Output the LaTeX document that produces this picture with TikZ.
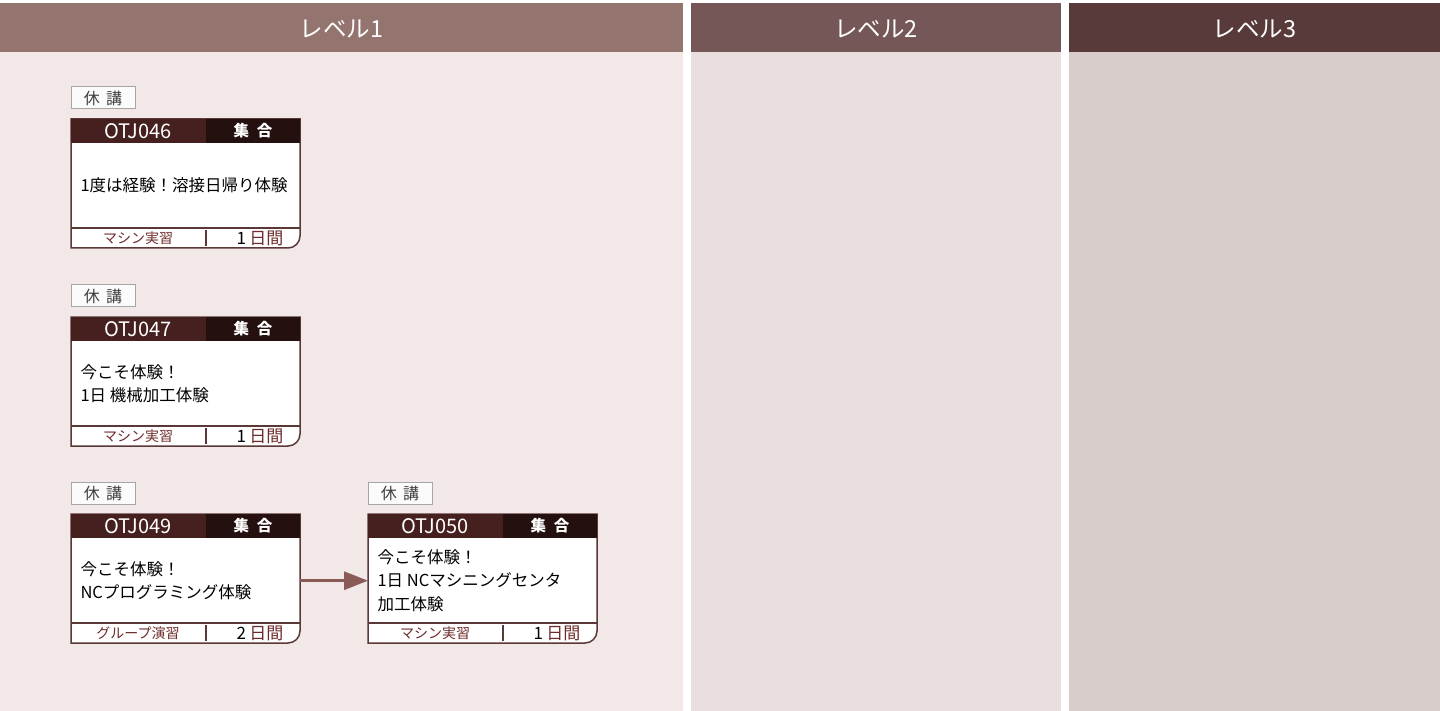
\documentclass[tikz,border=0pt]{standalone}
\usepackage{fontspec}
\setmainfont{Noto Sans CJK JP}
\usetikzlibrary{arrows.meta}
\definecolor{headA}{HTML}{94746F}
\definecolor{headB}{HTML}{765757}
\definecolor{headC}{HTML}{583A3B}
\definecolor{bodyA}{HTML}{F2E8E7}
\definecolor{bodyB}{HTML}{E8DFDE}
\definecolor{bodyC}{HTML}{D9CDCC}
\definecolor{barred}{HTML}{45201F}
\definecolor{bardark}{HTML}{23100F}
\definecolor{cardline}{HTML}{5A3838}
\definecolor{footred}{HTML}{6E2B2B}
\definecolor{flowline}{HTML}{8A5A57}
\tikzset{
  headtext/.style={text=white, font=\fontsize{23.5}{26}\selectfont},
  tagbox/.style={draw=gray!70, fill=white!97!gray, line width=1pt, minimum width=64pt, minimum height=22pt, inner sep=0pt, text=black!75, font=\fontsize{16}{18}\selectfont},
  codetext/.style={text=white, font=\fontsize{20}{22}\selectfont},
  kindtext/.style={text=white, font=\bfseries\fontsize{15.5}{18}\selectfont},
  bodytext/.style={anchor=west, align=left, font=\fontsize{16.5}{23.5}\selectfont},
  foottext/.style={text=footred, font=\fontsize{14}{16}\selectfont},
  daytext/.style={anchor=east, font=\fontsize{17}{18}\selectfont},
  flow/.style={draw=flowline, line width=3pt, -{Triangle[length=24pt, width=18pt]}}
}
\newcommand{\otjcard}[6]{%
  \begin{scope}[shift={#2}]
    \node[tagbox] (#1-tag) at (32,-21) {休\hspace{0.4em}講};
    \filldraw[fill=white, draw=cardline, line width=1.5pt] (0,129) -- (0,0) -- (229,0) -- (229,100) {[rounded corners=12pt] -- (229,129) -- (100,129)} -- cycle;
    \fill[barred] (0,0) rectangle (135,24);
    \fill[bardark] (135,0) rectangle (229,24);
    \node[minimum width=229pt, minimum height=85pt, inner sep=0pt, anchor=north west] (#1-body) at (0,24) {};
    \draw[cardline, line width=1.5pt] (0,109) -- (229,109) (135,111) -- (135,127);
    \node[codetext] (#1-code) at (67,12) {#3};
    \node[kindtext] (#1-kind) at (182,12) {集\hspace{0.5em}合};
    \node[bodytext] (#1-text) at (6,66.5) {#4};
    \node[foottext] (#1-kindfoot) at (67,119) {#5};
    \node[daytext] (#1-days) at (216,119) {#6\hspace{0.2em}\textcolor{footred}{日間}};
  \end{scope}}
\begin{document}
\begin{tikzpicture}[x=1pt, y=-1pt]
\useasboundingbox[fill=white] (0,0) rectangle (1440,711);
\fill[bodyA] (0,3) rectangle (683,711);
\fill[bodyB] (691,3) rectangle (1061,711);
\fill[bodyC] (1069,3) rectangle (1440,711);
\fill[headA] (0,3) rectangle (683,52);
\fill[headB] (691,3) rectangle (1061,52);
\fill[headC] (1069,3) rectangle (1440,52);
\node[headtext] (lv1) at (341.5,29) {レベル1};
\node[headtext] (lv2) at (876,29) {レベル2};
\node[headtext] (lv3) at (1254.5,29) {レベル3};
\otjcard{c046}{(71,119)}{OTJ046}{1度は経験！溶接日帰り体験}{マシン実習}{1}
\otjcard{c047}{(71,317)}{OTJ047}{今こそ体験！\\1日 機械加工体験}{マシン実習}{1}
\otjcard{c049}{(71,514)}{OTJ049}{今こそ体験！\\NCプログラミング体験}{グループ演習}{2}
\otjcard{c050}{(368,514)}{OTJ050}{今こそ体験！\\1日 NCマシニングセンタ\\加工体験}{マシン実習}{1}
\draw[flow] (c049-body.east) -- (c050-body.west);
\end{tikzpicture}
\end{document}
